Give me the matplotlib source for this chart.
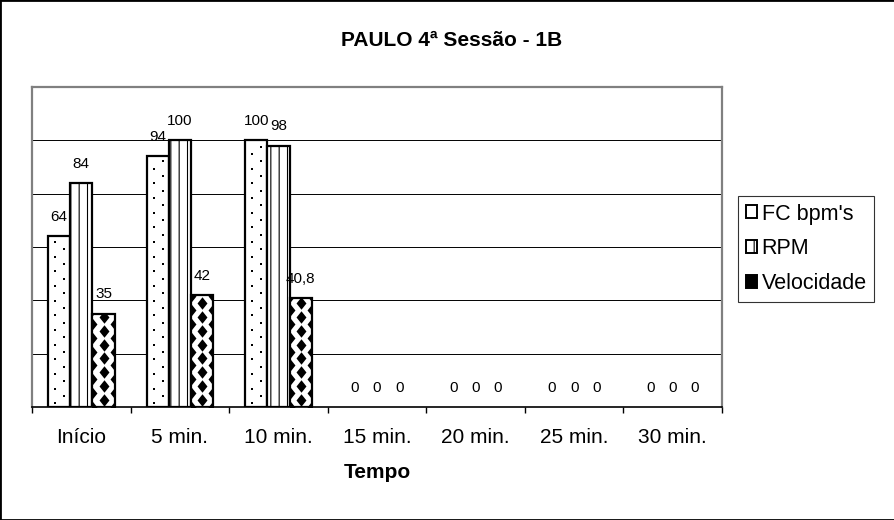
import numpy as np
import matplotlib
matplotlib.use("Agg")
import matplotlib.pyplot as plt
from matplotlib.patches import Patch, Rectangle
from matplotlib.path import Path

plt.rcParams["font.family"] = ["Liberation Sans", "DejaVu Sans"]
plt.rcParams["hatch.linewidth"] = 0.8

# data
categories = ["Início", "5 min.", "10 min.", "15 min.", "20 min.", "25 min.", "30 min."]
fc_bpm = [64, 94, 100, 0, 0, 0, 0]
rpm = [84, 100, 98, 0, 0, 0, 0]
velocidade = [35, 42, 40.8, 0, 0, 0, 0]
series_names = ["FC bpm's", "RPM", "Velocidade"]

fig = plt.figure(figsize=(8.95, 5.2), dpi=100)
fig.patches.append(Rectangle((0, 0), 1, 1, transform=fig.transFigure,
                             fill=False, edgecolor="black", lw=2))

ax = fig.add_axes([0.0358, 0.2173, 0.7709, 0.6154])
ax.set_xlim(-0.5, len(categories) - 0.5)
ax.set_ylim(0, 120)

x = np.arange(len(categories))
w = 0.225

b1 = ax.bar(x - w, fc_bpm, w, facecolor="white", edgecolor="black", lw=1.6, zorder=3)
b2 = ax.bar(x, rpm, w, facecolor="white", edgecolor="black", lw=1.6, hatch="||", zorder=3)
b3 = ax.bar(x + w, velocidade, w, facecolor="white", edgecolor="black", lw=1.6, zorder=3)
# zero-height bars are not drawn in the original
for bars in (b1, b2, b3):
    for bar in bars:
        if bar.get_height() <= 0:
            bar.set_visible(False)

# dotted fill for FC bars
dot_dy = 2.75
for bar in b1:
    x0, h = bar.get_x(), bar.get_height()
    if h <= 0:
        continue
    ys = np.arange(dot_dy / 2, h, dot_dy)
    xs = np.where(np.arange(len(ys)) % 2 == 0, x0 + w * 0.32, x0 + w * 0.72)
    sc = ax.scatter(xs, ys, s=1.6, marker="s", color="black", lw=0, zorder=4)
    sc.set_clip_path(bar)

# diamond fill for Velocidade bars
diamond = Path([(0, 1), (0.8, 0), (0, -1), (-0.8, 0), (0, 1)],
               [Path.MOVETO, Path.LINETO, Path.LINETO, Path.LINETO, Path.CLOSEPOLY])
dia_dy = 5.2
for bar in b3:
    x0, h = bar.get_x(), bar.get_height()
    if h <= 0:
        continue
    yc = np.arange(dia_dy / 2, h + dia_dy, dia_dy)
    ye = np.arange(0, h + dia_dy, dia_dy)
    xs = np.concatenate([np.full(len(yc), x0 + w / 2), np.full(len(ye), x0),
                         np.full(len(ye), x0 + w)])
    ys = np.concatenate([yc, ye, ye])
    sc = ax.scatter(xs, ys, s=80, marker=diamond, color="black", lw=0, zorder=4)
    sc.set_clip_path(bar)

# value labels
for bars, vals in [(b1, fc_bpm), (b2, rpm), (b3, velocidade)]:
    for bar, v in zip(bars, vals):
        txt = ("%g" % v).replace(".", ",")
        ax.annotate(txt, (bar.get_x() + w / 2, v), xytext=(0, 14),
                    textcoords="offset points", ha="center", va="center",
                    fontsize=11, zorder=5)

# grid and axes
ax.set_yticks(range(0, 121, 20))
ax.yaxis.grid(True, color="black", lw=0.7, zorder=0)
ax.tick_params(axis="y", left=False, labelleft=False)
ax.set_xticks(x)
ax.set_xticklabels(categories, fontsize=15)
ax.set_xticks(np.arange(-0.5, len(categories)), minor=True)
ax.tick_params(axis="x", which="major", length=0, pad=15)
ax.tick_params(axis="x", which="minor", length=4, width=1, direction="out")
for side in ["top", "left", "right"]:
    ax.spines[side].set_color("#808080")
    ax.spines[side].set_linewidth(1.6)
ax.spines["bottom"].set_color("black")
ax.spines["bottom"].set_linewidth(1.2)

fig.text(0.505, 1 - 40 / 520, "PAULO 4ª Sessão - 1B", ha="center", va="center",
         fontsize=15, fontweight="bold")
fig.text(0.4212, 1 - 472 / 520, "Tempo", ha="center", va="center",
         fontsize=15, fontweight="bold")

handles = [Patch(facecolor="white", edgecolor="black", hatch=".", lw=1.4),
           Patch(facecolor="white", edgecolor="black", hatch="||", lw=1.4),
           Patch(facecolor="black", edgecolor="black", lw=1.4)]
leg = fig.legend(handles, series_names, loc="center left",
                 bbox_to_anchor=(738 / 895, 1 - 249 / 520), fontsize=15.5,
                 frameon=True, fancybox=False, edgecolor="black",
                 handlelength=0.55, handleheight=0.55, handletextpad=0.2,
                 labelspacing=0.65, borderpad=0.35, borderaxespad=0)
leg.get_frame().set_linewidth(0.8)

fig.savefig("out.png", dpi=100)
